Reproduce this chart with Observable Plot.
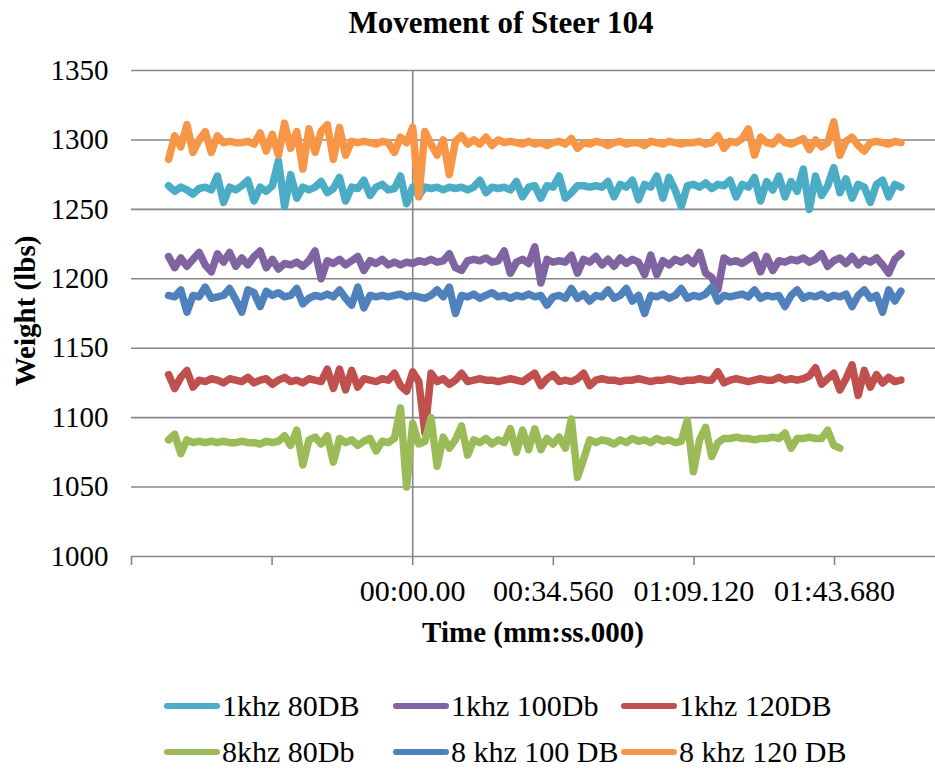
<!DOCTYPE html>
<html>
<head>
<meta charset="utf-8">
<script src="https://cdn.jsdelivr.net/npm/d3@7"></script>
<script src="https://cdn.jsdelivr.net/npm/@observablehq/plot@0.6"></script>
<style>
  body { margin: 0; background: #fff; }
  #wrap { position: relative; width: 935px; height: 771px; overflow: hidden;
          font-family: "Liberation Serif", "Times New Roman", serif; color: #000; }
  #chart { position: absolute; left: 0; top: 0; }
  .txt { position: absolute; white-space: nowrap; font-size: 29px; line-height: 29px; }
  .bold { font-weight: bold; }
  .sw { position: absolute; height: 6px; width: 56px; border-radius: 3px; }
</style>
</head>
<body>
<div id="wrap">
  <div id="chart"></div>
  <div id="title" class="txt bold" style="left:501px; top:7px; transform:translateX(-50%); font-size:31px; line-height:31px;">Movement of Steer 104</div>
  <div id="ylab" class="txt bold" style="left:25px; top:311px; transform:translate(-50%,-50%) rotate(-90deg);">Weight (lbs)</div>
  <div id="xlab" class="txt bold" style="left:533px; top:618px; transform:translateX(-50%);">Time (mm:ss.000)</div>
  <div id="legend"></div>
</div>
<script>
// ---- data ----
const time = [-60,-58.5,-57,-55.5,-54,-52.5,-51,-49.5,-48,-46.5,-45,-43.5,-42,-40.5,-39,-37.5,-36,-34.5,-33,-31.5,
  -30,-28.5,-27,-25.5,-24,-22.5,-21,-19.5,-18,-16.5,-15,-13.5,-12,-10.5,-9,-7.5,-6,-4.5,-3,-1.5,
  0,1.5,3,4.5,6,7.5,9,10.5,12,13.5,15,16.5,18,19.5,21,22.5,24,25.5,27,28.5,
  30,31.5,33,34.5,36,37.5,39,40.5,42,43.5,45,46.5,48,49.5,51,52.5,54,55.5,57,58.5,
  60,61.5,63,64.5,66,67.5,69,70.5,72,73.5,75,76.5,78,79.5,81,82.5,84,85.5,87,88.5,
  90,91.5,93,94.5,96,97.5,99,100.5,102,103.5,105,106.5,108,109.5,111,112.5,114,115.5,117,118.5,120];

const s1k80 = [1267,1263,1266,1264,1261,1265,1266,1264,1274,1255,
  1266,1264,1267,1271,1256,1266,1263,1267,1285,1252,
  1275,1258,1266,1264,1266,1270,1262,1265,1273,1256,
  1266,1265,1271,1260,1266,1268,1264,1265,1274,1254,
  1266,1260,1266,1265,1266,1264,1266,1265,1266,1264,
  1266,1271,1262,1266,1265,1266,1264,1270,1259,1266,
  1267,1258,1267,1266,1274,1258,1262,1267,1267,1266,
  1267,1266,1270,1259,1268,1266,1271,1257,1268,1266,
  1274,1258,1273,1264,1252,1267,1268,1266,1269,1265,
  1268,1267,1271,1259,1268,1266,1273,1256,1270,1264,
  1274,1259,1270,1263,1279,1250,1274,1260,1267,1280,
  1262,1272,1258,1268,1266,1255,1268,1271,1259,1268,1266];

const s1k100 = [1216,1208,1215,1209,1214,1219,1210,1205,1218,1212,
  1219,1209,1215,1210,1216,1220,1208,1214,1207,1211,
  1210,1212,1209,1213,1220,1200,1213,1211,1214,1210,
  1213,1216,1206,1213,1211,1214,1210,1212,1210,1212,
  1211,1213,1212,1214,1212,1213,1218,1208,1206,1213,
  1214,1213,1215,1212,1213,1220,1204,1212,1214,1211,
  1223,1197,1214,1212,1213,1212,1217,1204,1214,1212,
  1216,1210,1214,1209,1215,1211,1214,1212,1203,1217,
  1203,1213,1210,1214,1212,1215,1211,1219,1204,1201,
  1192,1215,1212,1213,1211,1214,1217,1205,1216,1206,
  1213,1212,1214,1213,1215,1212,1214,1218,1209,1213,
  1215,1211,1216,1210,1214,1212,1215,1210,1204,1214,1218];

const s1k120 = [1131,1121,1129,1134,1122,1127,1126,1128,1127,1125,
  1128,1127,1126,1129,1125,1127,1128,1124,1127,1129,
  1126,1127,1125,1128,1127,1126,1135,1121,1135,1120,
  1134,1122,1128,1127,1126,1128,1127,1132,1123,1119,
  1133,1126,1089,1132,1126,1128,1124,1127,1132,1126,
  1127,1128,1127,1127,1126,1127,1128,1127,1126,1129,
  1132,1123,1128,1131,1126,1127,1126,1128,1132,1123,
  1127,1128,1127,1127,1126,1127,1127,1128,1127,1126,
  1127,1127,1128,1127,1126,1127,1127,1128,1127,1127,
  1133,1125,1127,1128,1127,1126,1127,1128,1127,1127,
  1129,1127,1128,1127,1128,1130,1136,1124,1128,1132,
  1120,1128,1138,1116,1134,1122,1131,1125,1129,1126,1127];

const s8k80 = [1084,1088,1074,1084,1082,1083,1082,1083,1082,1083,
  1082,1082,1083,1082,1082,1081,1083,1082,1083,1087,
  1080,1091,1066,1084,1086,1081,1087,1068,1085,1082,
  1084,1080,1083,1085,1076,1083,1082,1085,1107,1050,
  1096,1081,1083,1100,1065,1086,1078,1084,1094,1073,
  1084,1082,1085,1081,1084,1082,1092,1075,1091,1077,
  1092,1077,1085,1081,1086,1078,1099,1057,1070,1084,
  1082,1084,1083,1081,1084,1082,1085,1083,1084,1082,
  1085,1083,1084,1082,1083,1098,1061,1084,1093,1072,
  1082,1085,1085,1086,1085,1085,1084,1085,1085,1086,
  1085,1089,1078,1085,1085,1086,1085,1085,1091,1080,1078];

const s8k100 = [1188,1187,1192,1176,1188,1187,1194,1186,1187,1188,
  1193,1185,1176,1192,1190,1180,1191,1188,1190,1187,
  1188,1193,1182,1186,1188,1187,1189,1187,1192,1186,
  1181,1194,1179,1188,1187,1188,1187,1188,1189,1187,
  1188,1187,1186,1188,1192,1187,1194,1175,1188,1187,
  1189,1186,1188,1190,1187,1188,1186,1188,1187,1189,
  1187,1188,1181,1187,1188,1186,1193,1186,1189,1184,
  1188,1187,1192,1186,1188,1193,1184,1188,1175,1188,
  1187,1189,1186,1188,1193,1186,1188,1187,1189,1194,
  1184,1188,1187,1188,1189,1187,1192,1186,1188,1187,
  1188,1180,1188,1192,1186,1188,1187,1189,1186,1188,
  1187,1189,1180,1188,1192,1186,1188,1176,1192,1184,1191];

const s8k120 = [1286,1303,1295,1311,1291,1300,1306,1291,1303,1298,
  1299,1298,1298,1299,1297,1305,1292,1304,1289,1312,
  1294,1306,1279,1308,1291,1306,1311,1286,1309,1289,
  1299,1298,1299,1298,1297,1299,1298,1291,1302,1298,
  1309,1259,1306,1297,1289,1300,1275,1299,1303,1297,
  1300,1297,1302,1296,1300,1298,1299,1298,1297,1299,
  1297,1298,1296,1298,1299,1297,1301,1294,1298,1297,
  1299,1298,1296,1298,1299,1297,1298,1298,1296,1299,
  1298,1297,1299,1298,1297,1298,1298,1299,1297,1298,
  1303,1294,1299,1298,1301,1308,1289,1302,1298,1297,
  1302,1298,1297,1299,1301,1293,1300,1295,1298,1313,
  1289,1299,1302,1296,1292,1298,1299,1298,1297,1299,1298];

const seriesNames = ["1khz 80DB", "1khz 100Db", "1khz 120DB", "8khz 80Db", "8 khz 100 DB", "8 khz 120 DB"];
const seriesValues = [s1k80, s1k100, s1k120, s8k80, s8k100, s8k120];
const seriesColors = ["#4BACC6", "#8064A2", "#C0504D", "#9BBB59", "#4F81BD", "#F79646"];

const yTicks = [1000, 1050, 1100, 1150, 1200, 1250, 1300, 1350];
const xTicks = [-69.12, -34.56, 0, 34.56, 69.12, 103.68];
const xTickLabels = ["", "", "00:00.00", "00:34.560", "01:09.120", "01:43.680"];

// ---- chart ----
const rows = seriesValues.map((vals, k) => vals.map((v, i) => ({t: time[i], v, name: seriesNames[k]})));
const xLabelMap = new Map(xTicks.map((d, i) => [d, xTickLabels[i]]));
const grid = "#878787";

const chart = Plot.plot({
  width: 935,
  height: 660,
  marginLeft: 131,
  marginRight: 0,
  marginTop: 70,
  marginBottom: 104,
  x: {domain: [-69.12, 128.5], label: null},
  y: {domain: [1000, 1350], label: null},
  style: {fontFamily: '"Liberation Serif", "Times New Roman", serif', fontSize: "29px", color: "#000", background: "transparent", overflow: "visible"},
  marks: [
    Plot.ruleY(yTicks, {stroke: grid, strokeWidth: 1.6}),
    Plot.ruleX([0], {stroke: grid, strokeWidth: 1.6}),
    Plot.axisY({ticks: yTicks, tickSize: 0, tickPadding: 23, fontSize: 29, tickFormat: d => String(d), label: null}),
    Plot.axisX({ticks: xTicks, tickSize: 9, tickPadding: 14, fontSize: 30, tickFormat: d => xLabelMap.get(d), stroke: grid, strokeWidth: 1.6, fill: "#000", label: null}),
    ...rows.map((r, k) => Plot.line(r, {x: "t", y: "v", stroke: seriesColors[k], strokeWidth: 7.5, strokeLinejoin: "round", strokeLinecap: "round"}))
  ]
});
document.getElementById("chart").appendChild(chart);

// ---- legend ----
const legend = document.getElementById("legend");
const colX = [164, 393, 621];
const rowY = [706, 752];
seriesNames.forEach((name, k) => {
  const cx = colX[k % 3], cy = rowY[Math.floor(k / 3)];
  const sw = document.createElement("div");
  sw.className = "sw";
  sw.style.left = cx + "px";
  sw.style.top = (cy - 3) + "px";
  sw.style.background = seriesColors[k];
  legend.appendChild(sw);
  const tx = document.createElement("div");
  tx.className = "txt";
  tx.style.left = (cx + 58) + "px";
  tx.style.top = (cy - 15) + "px";
  tx.style.fontSize = "30px";
  tx.textContent = name;
  legend.appendChild(tx);
});
</script>
</body>
</html>
